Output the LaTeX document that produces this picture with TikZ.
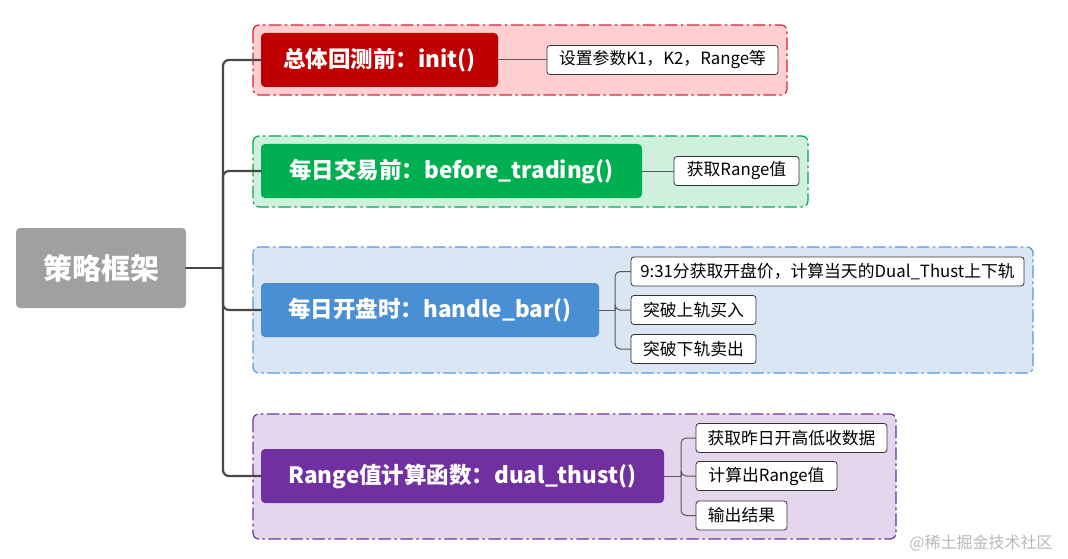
\documentclass[tikz,border=0pt]{standalone}
\usepackage{fontspec}
\setmainfont{Noto Sans CJK SC}
\usetikzlibrary{positioning}

\definecolor{rootgray}{RGB}{160,160,160}
\definecolor{redmain}{RGB}{192,0,0}
\definecolor{redgrp}{RGB}{255,206,208}
\definecolor{redline}{RGB}{214,36,56}
\definecolor{greenmain}{RGB}{0,176,80}
\definecolor{greengrp}{RGB}{206,240,220}
\definecolor{greenline}{RGB}{0,168,84}
\definecolor{bluemain}{RGB}{74,143,212}
\definecolor{bluegrp}{RGB}{218,230,244}
\definecolor{blueline}{RGB}{86,152,222}
\definecolor{purplemain}{RGB}{112,48,160}
\definecolor{purplegrp}{RGB}{228,214,236}
\definecolor{purpleline}{RGB}{112,48,160}

\begin{document}
\begin{tikzpicture}[
  x=1pt,y=-1pt,
  line cap=round,line join=round
]
  \tikzset{
    grp/.style={rounded corners=6pt, line width=1.2pt, dash pattern=on 12pt off 4pt on 2pt off 4pt},
    rootbox/.style={fill=rootgray, rounded corners=4pt, text=white, inner sep=0pt,
      font=\bfseries\fontsize{29}{34}\selectfont},
    mainbox/.style={rounded corners=4pt, text=white, inner sep=0pt, minimum height=54pt,
      font=\bfseries\fontsize{22.5}{26}\selectfont},
    subbox/.style={draw=black!80, fill=white, rounded corners=3pt, line width=0.8pt,
      inner sep=0pt, minimum height=29pt, font=\fontsize{16.8}{19}\selectfont},
    trunk/.style={draw=black!72, line width=2.2pt, rounded corners=6pt},
    twig/.style={draw=black!65, line width=1pt, rounded corners=5pt}
  }

  \useasboundingbox (0,0) rectangle (1068,559);

  % group frames
  \draw[grp, draw=redline, fill=redgrp]       (253,25)  rectangle (787,95);
  \draw[grp, draw=greenline, fill=greengrp]   (253,136) rectangle (808,207);
  \draw[grp, draw=blueline, fill=bluegrp]     (253,247) rectangle (1033,373);
  \draw[grp, draw=purpleline, fill=purplegrp] (253,414) rectangle (896,539);

  % root and main steps
  \node[rootbox, minimum width=170pt, minimum height=80pt] (root) at (101,268) {策略框架};
  \node[mainbox, fill=redmain, minimum width=237pt]    (m1) at (379.5,60)  {总体回测前：init()};
  \node[mainbox, fill=greenmain, minimum width=381pt]  (m2) at (451.5,171) {每日交易前：before\_trading()};
  \node[mainbox, fill=bluemain, minimum width=338pt]   (m3) at (430,310)   {每日开盘时：handle\_bar()};
  \node[mainbox, fill=purplemain, minimum width=403pt] (m4) at (462.5,476) {Range值计算函数：dual\_thust()};

  % details
  \node[subbox, minimum width=231pt] (s1)  at (662.5,60)  {设置参数K1，K2，Range等};
  \node[subbox, minimum width=125pt] (s2)  at (736.5,171) {获取Range值};
  \node[subbox, minimum width=393pt] (s31) at (827.5,271.5) {9:31分获取开盘价，计算当天的Dual\_Thust上下轨};
  \node[subbox, minimum width=125pt] (s32) at (693.5,310) {突破上轨买入};
  \node[subbox, minimum width=125pt] (s33) at (693.5,349) {突破下轨卖出};
  \node[subbox, minimum width=191pt] (s41) at (791.5,438) {获取昨日开高低收数据};
  \node[subbox, minimum width=141pt] (s42) at (766.5,476) {计算出Range值};
  \node[subbox, minimum width=91pt]  (s43) at (741.5,515.5) {输出结果};

  % joints
  \coordinate (jr) at (223,268);
  \coordinate (j3) at (615,310);
  \coordinate (j4) at (681,476);

  % connectors
  \draw[trunk] (root.east) -- (jr);
  \foreach \m in {m1,m2,m3,m4}
    \draw[trunk] (jr) |- (\m.west);
  \draw[twig] (m1.east) -- (s1.west);
  \draw[twig] (m2.east) -- (s2.west);
  \draw[twig] (m3.east) -- (j3);
  \foreach \s in {s31,s32,s33}
    \draw[twig] (j3) |- (\s.west);
  \draw[twig] (m4.east) -- (j4);
  \foreach \s in {s41,s42,s43}
    \draw[twig] (j4) |- (\s.west);

  % watermark
  \node[text=black!28, font=\fontsize{16}{19}\selectfont] (wm) at (981,543) {@稀土掘金技术社区};
\end{tikzpicture}
\end{document}
